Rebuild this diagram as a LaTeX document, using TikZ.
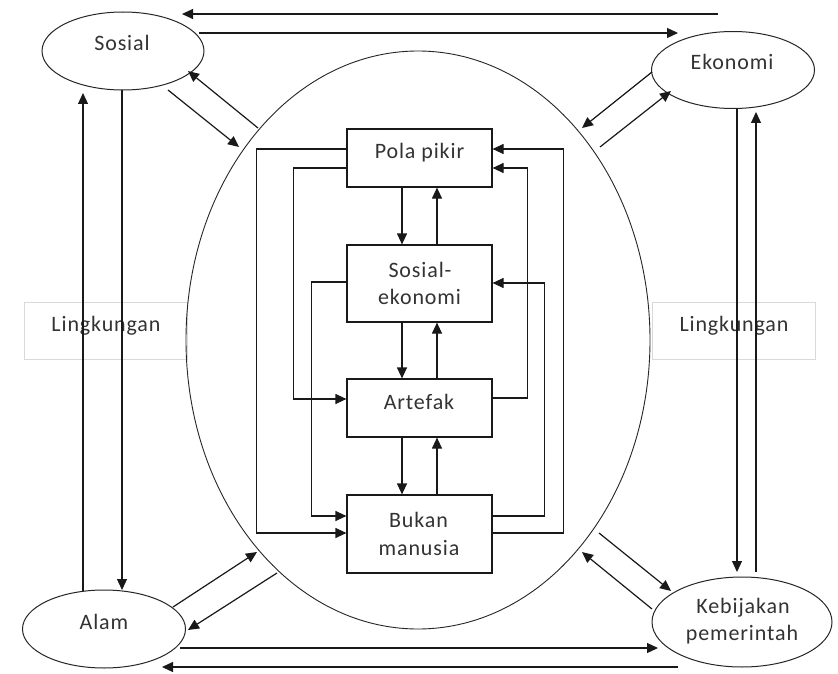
\documentclass[tikz,border=0pt]{standalone}
\usepackage{fontspec}
\setmainfont{Carlito}[LetterSpace=4]
\usetikzlibrary{shapes.geometric,arrows.meta,calc}
\newcommand\dfont{\fontsize{22}{28}\selectfont}
\begin{document}
\begin{tikzpicture}[x=1pt,y=-1pt,
  arr/.style={draw=black!90, line width=1.2pt, -{Triangle[length=11pt,width=10pt]}},
  ell/.style={ellipse, draw=black!85, line width=1pt, inner sep=0pt},
  box/.style={rectangle, draw=black!90, line width=1.2pt, minimum width=145pt, inner sep=0pt},
  lab/.style={rectangle, draw=black!15, line width=0.8pt, minimum width=163pt, minimum height=57pt, inner sep=0pt},
  txt/.style={anchor=base, inner sep=0pt, font=\dfont, text=black!80}]
\useasboundingbox (0,0) rectangle (838,674);
\fill[white] (0,0) rectangle (838,674);
% Lingkungan boxes
\node[lab] (lkL) at (105.5,330.5) {};
\node[lab] (lkR) at (733.5,330.5) {};
\node[txt] (lkLt) at (106,331) {Lingkungan};
\node[txt] (lkRt) at (734,331) {Lingkungan};
% big ellipse
\node[ell, line width=0.9pt, minimum width=464pt, minimum height=578pt] (big) at (418,340) {};
% outer ellipses
\node[ell, minimum width=162pt, minimum height=78pt] (sos) at (123,51) {};
\node[ell, minimum width=163pt, minimum height=77pt] (eko) at (733,70) {};
\node[ell, minimum width=163pt, minimum height=78pt] (alam) at (104,629) {};
\node[ell, minimum width=180pt, minimum height=90pt] (keb) at (742,622) {};
\node[txt] (sost) at (122,51) {Sosial};
\node[txt] (ekot) at (732,70) {Ekonomi};
\node[txt] (alamt) at (104,629) {Alam};
\node[txt] (kebt1) at (743,613) {Kebijakan};
\node[txt] (kebt2) at (742,640) {pemerintah};
% inner boxes
\node[box, minimum height=58pt] (pp) at (419.5,158) {};
\node[box, minimum height=77pt] (se) at (419.5,283.5) {};
\node[box, minimum height=58pt] (ar) at (419.5,408) {};
\node[box, minimum height=78pt] (bm) at (419.5,534) {};
\node[txt] (ppt) at (419.5,159) {Pola pikir};
\node[txt] (set1) at (420,277) {Sosial-};
\node[txt] (set2) at (419.5,304) {ekonomi};
\node[txt] (art) at (419,409) {Artefak};
\node[txt] (bmt1) at (418.5,527) {Bukan};
\node[txt] (bmt2) at (419,555) {manusia};
% vertical arrows between boxes
\draw[arr] ($(pp.south)+(-17.5,0)$) -- ($(se.north)+(-17.5,0)$);
\draw[arr] ($(se.north)+(17.5,0)$) -- ($(pp.south)+(17.5,0)$);
\draw[arr] ($(se.south)+(-17.5,0)$) -- ($(ar.north)+(-17.5,0)$);
\draw[arr] ($(ar.north)+(17.5,0)$) -- ($(se.south)+(17.5,0)$);
\draw[arr] ($(ar.south)+(-17.5,0)$) -- ($(bm.north)+(-17.5,0)$);
\draw[arr] ($(bm.north)+(17.5,0)$) -- ($(ar.south)+(17.5,0)$);
% left loops
\draw[arr] ($(pp.west)+(0,-9)$) -- ++(-90,0) |- ($(bm.west)+(0,-1)$);
\draw[arr] ($(pp.west)+(0,10)$) -- ++(-53,0) |- ($(ar.west)+(0,-9)$);
\draw[arr] ($(se.west)+(0,-1.5)$) -- ++(-35,0) |- ($(bm.west)+(0,-18)$);
% right loops
\draw[arr] ($(bm.east)+(0,-1)$) -- ++(71,0) |- ($(pp.east)+(0,-9)$);
\draw[arr] ($(ar.east)+(0,-10)$) -- ++(35,0) |- ($(pp.east)+(0,10)$);
\draw[arr] ($(bm.east)+(0,-18)$) -- ++(52,0) |- ($(se.east)+(0,-0.5)$);
% free-end coordinates
\coordinate (t1a) at (718,14); \coordinate (t1b) at (182,14);
\coordinate (t2a) at (199,33); \coordinate (t2b) at (678,33);
\coordinate (s1a) at (258,128); \coordinate (s1b) at (188,71);
\coordinate (s2a) at (168,90); \coordinate (s2b) at (239,147);
\coordinate (e1a) at (652,72); \coordinate (e1b) at (582,128);
\coordinate (e2a) at (600,147); \coordinate (e2b) at (671,91);
\coordinate (sv1a) at (122,90); \coordinate (sv1b) at (122,590);
\coordinate (sv2a) at (83,591); \coordinate (sv2b) at (83,93);
\coordinate (ev1a) at (737,109); \coordinate (ev1b) at (737,572);
\coordinate (ev2a) at (756,572); \coordinate (ev2b) at (756,112);
\coordinate (a1a) at (173,607); \coordinate (a1b) at (257,552);
\coordinate (a2a) at (277,573); \coordinate (a2b) at (188,630);
\coordinate (k1a) at (599,533); \coordinate (k1b) at (671,591);
\coordinate (k2a) at (652,609); \coordinate (k2b) at (582,552);
\coordinate (b1a) at (180,648); \coordinate (b1b) at (658,648);
\coordinate (b2a) at (678,667); \coordinate (b2b) at (162,667);
\foreach \c in {t1,t2,s1,s2,e1,e2,sv1,sv2,ev1,ev2,a1,a2,k1,k2,b1,b2}
  \draw[arr] (\c a) -- (\c b);
\end{tikzpicture}
\end{document}
